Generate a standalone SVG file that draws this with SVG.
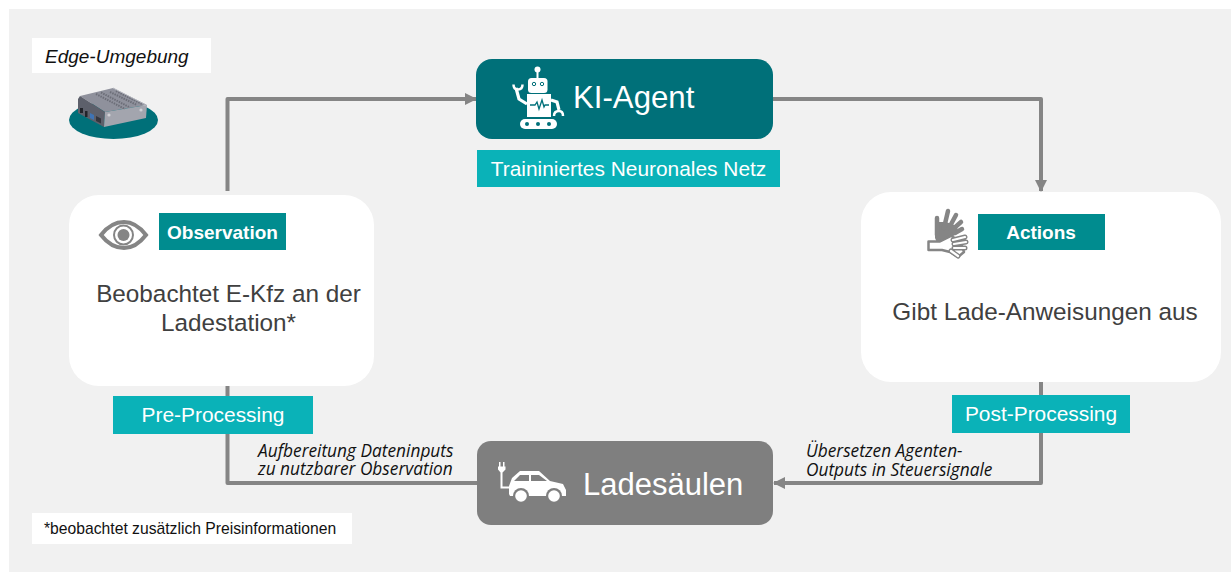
<svg xmlns="http://www.w3.org/2000/svg" width="1231" height="572" viewBox="0 0 1231 572">
<style>
text{font-family:"Liberation Sans",Arial,sans-serif}
.conn{fill:none;stroke:#858585;stroke-width:4;stroke-linejoin:round}
text.lbl{font-family:"Open Sans","Noto Sans",sans-serif;font-style:italic;font-size:17.300px;fill:#111}
.teal{fill:#008c8f}.cyan{fill:#0ab2b8}
.white{fill:#fff}
.body{font-size:24.300px;fill:#404040;text-anchor:middle}
.tag{font-weight:700;font-size:19px;fill:#fff;text-anchor:middle}
.sub{font-size:20.900px;fill:#fff;text-anchor:middle}
.ic{fill:#858585}
.fing{fill:none;stroke:#858585;stroke-linecap:round;stroke-width:4.500}
.fo{fill:none;stroke:#858585;stroke-linecap:round;stroke-width:5}
.fi{fill:none;stroke:#fff;stroke-linecap:round;stroke-width:2.200}
</style>
<defs>
<marker id="arrow" markerUnits="userSpaceOnUse" markerWidth="12" markerHeight="12" refX="11" refY="6" orient="auto"><path d="M0 0L12 6L0 12Z" fill="#858585"/></marker>
</defs>
<rect x="0" y="0" width="1231" height="572" fill="#fff"/>
<rect x="9" y="9" width="1222" height="563" fill="#f1f1f1"/>
<g id="connectors">
<path class="conn" d="M227.500 191V99H476" marker-end="url(#arrow)"/>
<path class="conn" d="M773 99H1041V191" marker-end="url(#arrow)"/>
<path class="conn" d="M1041 380V483H774" marker-end="url(#arrow)"/>
<path class="conn" d="M227.500 383V483H477"/>
</g>
<g id="edge">
<rect class="white" x="32" y="38" width="179" height="35"/>
<text x="45" y="63" font-size="19" font-style="italic" fill="#111">Edge-Umgebung</text>
<ellipse cx="113.500" cy="120" rx="44.500" ry="19" fill="#007079"/>
<path d="M80 96L113 88L147 105L105 112Z" fill="#8f919c"/>
<path d="M78 99L80 96L105 112L104 127L78 113Z" fill="#5d606b"/>
<path d="M105 112L147 105L146 118L104 127Z" fill="#a3a5ae"/>
<path d="M96 94L125 109M101 92.500L130 107.500M110 92L137 105M116 91L142 104" stroke="#6c6e78" stroke-width="2" stroke-dasharray="1.500 1" fill="none"/>
<path d="M113 88L146 105" stroke="#b4b6be" stroke-width="1" fill="none"/>
<rect x="80" y="108" width="3" height="5" fill="#22242a"/>
<rect x="85" y="111" width="2.500" height="6" fill="#22242a"/>
<path d="M90 113l4 2v5l-4-2Z" fill="#3f74b5"/>
<path d="M96 116l5 2.500v5l-5-2.500Z" fill="#34363e"/>
<circle cx="109" cy="115" r="1.600" fill="#d0d1d6"/><circle cx="141" cy="110" r="1.600" fill="#d0d1d6"/>
</g>
<g id="agent">
<rect x="476" y="59" width="297" height="80" rx="16" fill="#007079"/>
<circle class="white" cx="537.500" cy="69.500" r="3"/>
<rect class="white" x="536.500" y="71" width="2" height="8"/>
<rect class="white" x="528" y="78" width="19.500" height="15" rx="3.500"/>
<rect class="white" x="527" y="94" width="24" height="23"/>
<rect class="white" x="520" y="119" width="37" height="10" rx="5"/>
<path d="M516 88l3 11 8 5" fill="none" stroke="#fff" stroke-width="3.200"/>
<path d="M513.500 84.500q0 5 4.500 5q4.500 0 4.500-5" fill="none" stroke="#fff" stroke-width="2.500"/>
<path d="M551 100l6 2 2 8" fill="none" stroke="#fff" stroke-width="3.200"/>
<path d="M554 116q0-5 5-5q4 0 4 5" fill="none" stroke="#fff" stroke-width="2.500"/>
<circle cx="534" cy="84" r="1.700" fill="none" stroke="#007079" stroke-width="1"/>
<circle cx="542" cy="84" r="1.700" fill="none" stroke="#007079" stroke-width="1"/>
<path d="M530 105h5l2-3 2 7 3-9 2 7 1-2h4" fill="none" stroke="#007079" stroke-width="1.300"/>
<circle cx="527" cy="124" r="2" fill="#007079"/><circle cx="538" cy="124" r="2" fill="#007079"/><circle cx="549" cy="124" r="2" fill="#007079"/>
<text x="573" y="108" font-size="31.200" fill="#fff">KI-Agent</text>
</g>
<g id="agent-sub">
<rect class="cyan" x="477" y="150" width="303" height="37"/>
<text class="sub" x="628.500" y="176">Traininiertes Neuronales Netz</text>
</g>
<g id="observation">
<rect class="white" x="69" y="195" width="305" height="191" rx="30"/>
<path d="M101 235Q111 222 124 222Q136 222 146 235Q136 248 124 248Q111 248 101 235Z" fill="#fff" stroke="#858585" stroke-width="4"/>
<circle cx="123.500" cy="235" r="9.500" fill="none" stroke="#858585" stroke-width="2"/>
<circle class="ic" cx="123.500" cy="235" r="6"/>
<rect class="teal" x="159" y="213" width="127" height="37"/>
<text class="tag" x="222.500" y="238.500">Observation</text>
<text class="body" x="228.500" y="302">Beobachtet E-Kfz an der</text>
<text class="body" x="228.500" y="331">Ladestation*</text>
</g>
<g id="actions">
<rect class="white" x="861" y="192" width="360" height="190" rx="30"/>
<path class="ic" d="M935 222L946 222L957 226L958 233L947 240L938 245L935 238Z"/>
<path class="fing" d="M937 235L937 218M944 228L948 211M949 228L956 215M952 230L961 222M955 233L962 229"/>
<path d="M928.500 241.500H940L951 236L957 239L955 243L962 246L964 252L958 257L950 252L942 250H928.500Z" fill="#fff" stroke="#858585" stroke-width="2.500" stroke-linejoin="round"/>
<path class="fo" d="M953 240L965 237M954 244L966 242M954 248L965 248M951 251L958 256"/>
<path class="fi" d="M953 240L965 237M954 244L966 242M954 248L965 248M951 251L958 256"/>
<rect class="teal" x="978" y="214" width="127" height="36"/>
<text class="tag" x="1041" y="239">Actions</text>
<text class="body" x="1045" y="320">Gibt Lade-Anweisungen aus</text>
</g>
<g id="pre">
<rect class="cyan" x="113" y="396" width="200" height="38"/>
<text class="sub" x="213" y="422">Pre-Processing</text>
</g>
<g id="post">
<rect class="cyan" x="952" y="395" width="178" height="38"/>
<text class="sub" x="1041" y="421">Post-Processing</text>
</g>
<g id="ladesaeulen">
<rect x="477" y="441" width="296" height="84" rx="14" fill="#7f7f7f"/>
<path d="M499 462h1.500v5h-1.500ZM503 462h1.500v5h-1.500ZM498 466.500h7.500v3l-3 3v14h7v2h-9v-16l-2.500-3Z" fill="#fff"/>
<path d="M509 494V486L512 478L520 471H539L550 481L563 484L566 490V496H510Z" fill="#fff"/>
<path d="M514 481L520 475H529V481ZM531 475H539L547 481H531Z" fill="#7f7f7f"/>
<circle cx="521" cy="496" r="8" fill="#7f7f7f"/><circle cx="554" cy="496" r="8" fill="#7f7f7f"/>
<circle cx="521" cy="496" r="5.800" fill="#fff"/><circle cx="554" cy="496" r="5.800" fill="#fff"/>
<text x="583" y="495" font-size="31" fill="#fff">Ladesäulen</text>
</g>
<g id="label-pre">
<text class="lbl"><tspan x="258" y="457">Aufbereitung Dateninputs</tspan><tspan x="258" y="475">zu nutzbarer Observation</tspan></text>
</g>
<g id="label-post">
<text class="lbl"><tspan x="806" y="457">Übersetzen Agenten-</tspan><tspan x="806" y="476">Outputs in Steuersignale</tspan></text>
</g>
<g id="note">
<rect class="white" x="32" y="513" width="320" height="31"/>
<text x="44" y="533.500" font-size="15.700" fill="#111">*beobachtet zusätzlich Preisinformationen</text>
</g>
</svg>
